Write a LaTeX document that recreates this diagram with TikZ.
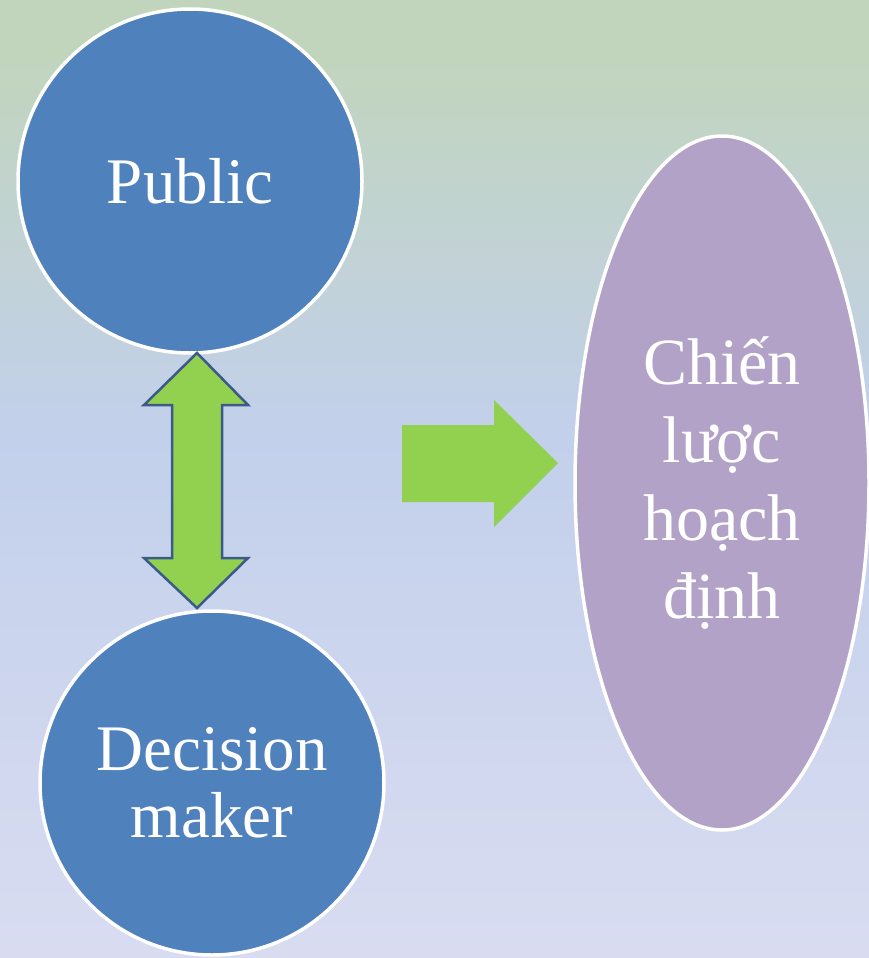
\documentclass[tikz,border=0pt]{standalone}
\usepackage{fontspec}
\setmainfont{Liberation Serif}
\usetikzlibrary{shapes.geometric}
\definecolor{bgtop}{HTML}{C1D5BC}
\definecolor{bgmid}{HTML}{C2D0EB}
\definecolor{bgbot}{HTML}{D9DCF1}
\definecolor{blueball}{HTML}{4F81BD}
\definecolor{lilac}{HTML}{B2A2C7}
\definecolor{arrowgreen}{HTML}{92D050}
\definecolor{arrowedge}{HTML}{3B5A8A}
\pgfdeclareverticalshading{bgshade}{100bp}{color(0bp)=(bgbot); color(25bp)=(bgbot); color(52.5bp)=(bgmid); color(72.5bp)=(bgtop); color(75bp)=(bgtop); color(100bp)=(bgtop)}
\tikzset{
  ball/.style={circle, fill=blueball, draw=white, line width=3.5pt, minimum size=344pt, inner sep=0pt,
    text=white, font=\fontsize{65}{67}\selectfont, align=center},
  oval/.style={ellipse, fill=lilac, draw=white, line width=3.5pt, minimum width=294pt, minimum height=694pt,
    inner sep=0pt, text=white, font=\fontsize{66}{78}\selectfont, align=center},
  greenarrow/.style={fill=arrowgreen},
  edgedarrow/.style={fill=arrowgreen, draw=arrowedge, line width=2.5pt, line join=miter}
}
\begin{document}
\begin{tikzpicture}[x=1pt,y=-1pt]
\useasboundingbox (0,0) rectangle (869,958);
\shade[shading=bgshade] (0,0) rectangle (869,958);
\node[ball] (public) at (190,181) {Public};
\node[ball] (decision) at (212,783) {Decision\\maker};
\node[oval] (strategy) at (722,483) {Chiến\\lược\\hoạch\\định};
% double arrow between the circles
\draw[edgedarrow] (197,353) -- (248,405) -- (222,405) -- (222,558) -- (248,558) -- (197,608)
  -- (144,558) -- (172,558) -- (172,405) -- (144,405) -- cycle;
% right arrow towards the ellipse
\fill[greenarrow] (402,425) -- (494,425) -- (494,400) -- (558,463) -- (494,527) -- (494,502) -- (402,502) -- cycle;
\end{tikzpicture}
\end{document}
